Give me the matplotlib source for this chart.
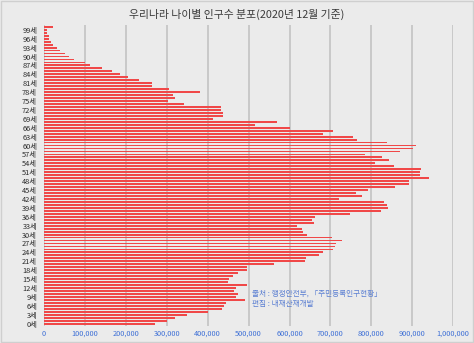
import matplotlib
matplotlib.use('Agg')
import matplotlib.pyplot as plt
from matplotlib.patches import Rectangle
from matplotlib.ticker import FuncFormatter

plt.rcParams['font.family'] = ['Noto Sans CJK KR', 'DejaVu Sans']

# 나이별 인구수 (단위: 천 명), 0세 ~ 100세
ages = list(range(0, 101))
population_k = [
    270, 300, 320, 350, 400, 435, 440, 445, 490, 470,
    475, 465, 470, 495, 450, 452, 463, 475, 496, 496,
    561, 638, 641, 671, 683, 707, 711, 713, 728, 703,
    642, 634, 630, 618, 660, 654, 663, 748, 823, 840,
    839, 830, 722, 778, 763, 791, 857, 892, 891, 940,
    918, 919, 921, 856, 810, 844, 826, 785, 870, 903,
    910, 838, 765, 756, 683, 706, 600, 516, 569, 412,
    437, 438, 433, 433, 342, 304, 320, 316, 380, 306,
    265, 265, 231, 206, 186, 165, 141, 112, 99, 72,
    62, 51, 39, 31, 21, 17, 13, 12, 8, 6,
    23,
]
population = [v * 1000 for v in population_k]

ytick_ages = list(range(0, 100, 3))
ytick_labels = [f'{a}세' for a in ytick_ages]

bg = '#ebebeb'
fig = plt.figure(figsize=(4.74, 3.43), dpi=100, facecolor=bg)
ax = fig.add_axes([0.093, 0.05, 0.863, 0.877], facecolor=bg)

ax.barh(ages, population, height=0.62, color='#f04848', edgecolor='none', zorder=3)

ax.set_xlim(0, 1000000)
ax.set_ylim(-0.75, 100.6)
ax.set_xticks(range(0, 1000001, 100000))
ax.xaxis.set_major_formatter(FuncFormatter(lambda v, p: f'{int(v):,}'))
ax.set_yticks(ytick_ages)
ax.set_yticklabels(ytick_labels)

ax.tick_params(axis='x', length=0, labelsize=5.3, labelcolor='#3d6fd6', pad=3)
ax.tick_params(axis='y', length=0, labelsize=5.3, labelcolor='#2a2a2a', pad=5)

ax.grid(True, axis='x', color='#c6c6c6', linewidth=1.3, zorder=0)
for s in ax.spines.values():
    s.set_visible(False)

# 바깥 테두리
fig.patches.append(Rectangle((0.003, 0.004), 0.994, 0.992, transform=fig.transFigure,
                             fill=False, edgecolor='#cfcfcf', linewidth=1.0))

fig.text(0.5, 0.958, '우리나라 나이별 인구수 분포(2020년 12월 기준)',
         ha='center', va='center', fontsize=7.8, color='#3a3a3a')

ax.text(0.508, 0.06, '출처 : 행정안전부, 「주민등록인구현황」\n편집 : 내재산재개발',
        transform=ax.transAxes, ha='left', va='bottom', fontsize=5.5,
        color='#5b7fd2', linespacing=1.3, zorder=5)

fig.savefig('out.png', dpi=100, facecolor=bg)
